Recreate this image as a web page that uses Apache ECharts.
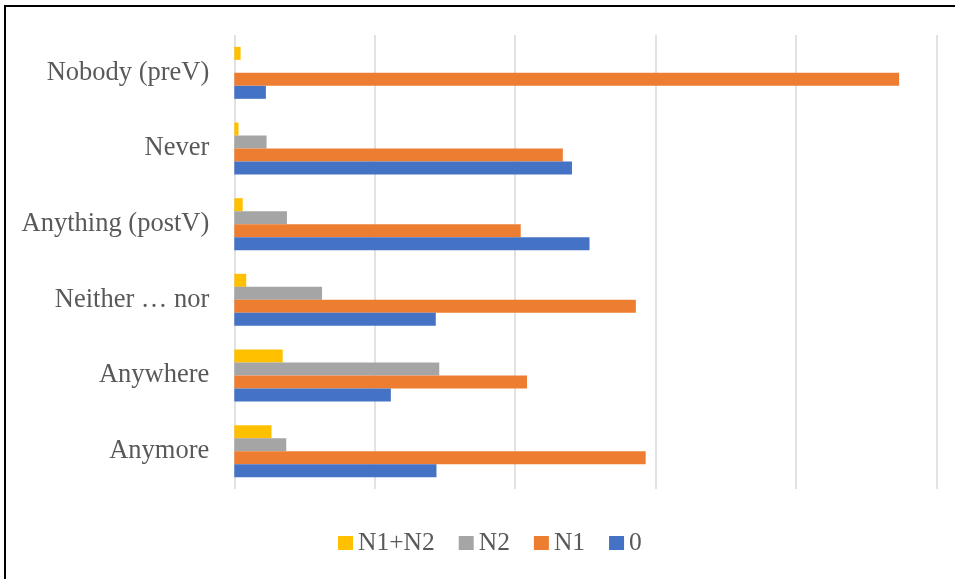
<!DOCTYPE html>
<html>
<head>
<meta charset="utf-8">
<script src="https://cdn.jsdelivr.net/npm/echarts@6/dist/echarts.min.js"></script>
<style>
html,body{margin:0;padding:0;background:#fff;}
#chart{width:955px;height:579px;}
</style>
</head>
<body>
<div id="chart"></div>
<script>
const categories = ['Anymore', 'Anywhere', 'Neither … nor', 'Anything (postV)', 'Never', 'Nobody (preV)'];
const seriesNames = ['N1+N2', 'N2', 'N1', '0'];
const valuesN1N2 = [5.3, 6.9, 1.7, 1.2, 0.6, 0.9];
const valuesN2 = [7.4, 29.2, 12.5, 7.5, 4.6, 0];
const valuesN1 = [58.6, 41.7, 57.2, 40.8, 46.8, 94.7];
const values0 = [28.8, 22.3, 28.7, 50.6, 48.1, 4.5];

const colors = ['#FFC000', '#A5A5A5', '#ED7D31', '#4472C4'];
const seriesData = [valuesN1N2, valuesN2, valuesN1, values0];
const fontFam = '"Liberation Serif", "DejaVu Serif", serif';

const chart = echarts.init(document.getElementById('chart'), null, {renderer: 'canvas'});
chart.setOption({
  animation: false,
  backgroundColor: '#fff',
  color: colors,
  graphic: [{
    type: 'rect',
    shape: {x: 5, y: 6, width: 970, height: 600},
    style: {fill: 'none', stroke: '#000', lineWidth: 2},
    silent: true
  }],
  grid: {left: 234.3, right: 18.7, top: 35, bottom: 90, containLabel: false},
  legend: {
    data: seriesNames,
    left: 333,
    top: 525,
    itemWidth: 15,
    itemHeight: 14,
    itemGap: 24,
    icon: 'rect',
    textStyle: {color: '#595959', fontSize: 25.5, fontFamily: fontFam}
  },
  xAxis: {
    type: 'value',
    min: 0, max: 100, interval: 20,
    axisLabel: {show: false},
    axisLine: {show: false},
    axisTick: {show: false},
    splitLine: {show: true, lineStyle: {color: '#D9D9D9', width: 1.5}}
  },
  yAxis: {
    type: 'category',
    data: categories,
    axisLine: {show: false},
    axisTick: {show: false},
    axisLabel: {color: '#595959', fontSize: 26.5, fontFamily: fontFam, margin: 25, padding: [4, 0, 0, 0]}
  },
  series: seriesNames.map((n, i) => ({
    name: n,
    type: 'bar',
    data: seriesData[i],
    barWidth: 13,
    barGap: '0%',
    itemStyle: {color: colors[i]}
  }))
});
</script>
</body>
</html>
